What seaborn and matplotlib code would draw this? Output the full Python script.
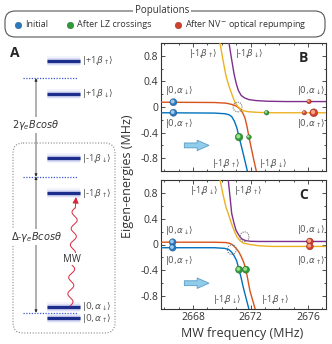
import numpy as np
import matplotlib
matplotlib.use("Agg")
import matplotlib.pyplot as plt
from matplotlib.patches import FancyBboxPatch, Ellipse
from matplotlib.ticker import MultipleLocator
from matplotlib.transforms import offset_copy
import seaborn as sns

# ---------------- values ----------------
freq_lim = (2665.77, 2677.25)
energy_lim = (-1.0, 1.0)
xtick_vals = [2668, 2672, 2676]
ytick_vals = [0.8, 0.4, 0, -0.4, -0.8]
ytick_labels = ["0.8", "0.4", "0", "-0.4", "-0.8"]

# panel B eigen-energies (MHz vs MHz)
b_blue_x = [2665.77, 2669.5, 2670.2, 2670.5, 2670.69, 2670.87, 2671.04, 2671.2, 2671.35, 2671.5, 2671.8]
b_blue_y = [-0.09, -0.095, -0.105, -0.12, -0.15, -0.22, -0.32, -0.47, -0.6, -0.74, -1.02]
b_orange_x = [2665.77, 2669.5, 2670.3, 2670.7, 2671.0, 2671.27, 2671.45, 2671.61, 2671.75, 2671.89, 2672.05, 2672.22, 2672.42]
b_orange_y = [0.075, 0.07, 0.06, 0.04, 0.015, -0.03, -0.09, -0.17, -0.3, -0.47, -0.64, -0.82, -1.02]
b_yellow_x = [2669.87, 2670.07, 2670.27, 2670.45, 2670.62, 2670.78, 2670.92, 2671.1, 2671.3, 2671.5, 2671.9, 2672.6, 2673.5, 2677.25]
b_yellow_y = [1.0, 0.75, 0.51, 0.36, 0.25, 0.15, 0.07, 0.01, -0.035, -0.06, -0.075, -0.085, -0.09, -0.09]
b_purple_x = [2670.5, 2670.68, 2670.85, 2671.0, 2671.15, 2671.35, 2671.6, 2671.9, 2672.4, 2673.2, 2674.5, 2677.25]
b_purple_y = [1.0, 0.75, 0.52, 0.37, 0.26, 0.18, 0.14, 0.115, 0.1, 0.09, 0.085, 0.085]

# panel C eigen-energies
c_blue_x = [2665.77, 2669.5, 2670.2, 2670.5, 2670.69, 2670.87, 2671.03, 2671.2, 2671.35, 2671.5, 2671.92]
c_blue_y = [-0.05, -0.05, -0.06, -0.08, -0.12, -0.18, -0.25, -0.39, -0.52, -0.67, -1.03]
c_orange_x = [2665.77, 2669.5, 2670.3, 2670.6, 2670.8, 2671.0, 2671.2, 2671.38, 2671.53, 2671.68, 2671.96, 2672.36]
c_orange_y = [0.036, 0.035, 0.03, 0.015, -0.015, -0.06, -0.12, -0.2, -0.28, -0.39, -0.72, -1.03]
c_yellow_x = [2669.88, 2670.1, 2670.3, 2670.45, 2670.65, 2670.85, 2671.05, 2671.26, 2671.5, 2671.96, 2672.6, 2673.5, 2677.25]
c_yellow_y = [1.0, 0.76, 0.57, 0.48, 0.34, 0.22, 0.12, 0.06, 0.02, 0.0, -0.02, -0.03, -0.03]
c_purple_x = [2670.45, 2670.58, 2670.69, 2670.85, 2670.99, 2671.2, 2671.38, 2671.6, 2671.96, 2672.6, 2673.5, 2677.25]
c_purple_y = [1.0, 0.72, 0.48, 0.33, 0.22, 0.14, 0.09, 0.065, 0.05, 0.047, 0.047, 0.047]

# populations (balls): x, y, marker size
b_initial = ([2666.63, 2666.63], [0.075, -0.09], [26, 26])
b_lz = ([2673.12, 2671.2, 2671.89], [-0.09, -0.47, -0.47], [11, 30, 11])
b_repump = ([2676.07, 2675.74, 2676.4], [0.085, -0.09, -0.09], [10, 10, 32])
c_initial = ([2666.58, 2666.58], [0.036, -0.05], [24, 24])
c_lz = ([2671.2, 2671.68], [-0.39, -0.39], [26, 26])
c_repump = ([2676.13, 2676.13], [0.047, -0.03], [24, 24])

# dotted circles at the anticrossings
b_crossings = ([2671.1], [0.0])
c_crossings = ([2671.58, 2670.7], [0.12, -0.08])

KA_U = r"$|0,\!\alpha_{\uparrow}\!\rangle$"
KA_D = r"$|0,\!\alpha_{\downarrow}\!\rangle$"
KB_U = r"$|$-1,$\!\beta_{\uparrow}\!\rangle$"
KB_D = r"$|$-1,$\!\beta_{\downarrow}\!\rangle$"

# ket labels: text, x, y
b_labels = [(KB_U, 2668.69, 0.83), (KB_D, 2671.9, 0.83),
            (KA_D, 2667.0, 0.265), (KA_U, 2667.0, -0.265),
            (KA_D, 2676.24, 0.265), (KA_U, 2676.24, -0.265),
            (KB_U, 2670.29, -0.89), (KB_D, 2673.6, -0.89)]
c_labels = [(KB_D, 2668.76, 0.84), (KB_U, 2671.86, 0.84),
            (KA_D, 2667.0, 0.22), (KA_U, 2667.0, -0.25),
            (KA_D, 2676.24, 0.23), (KA_U, 2676.24, -0.25),
            (KB_D, 2670.34, -0.86), (KB_U, 2673.7, -0.86)]

# panel A schematic (pixel-like coordinates)
a_level_y = [60.7, 94, 158.3, 193.3, 306.7, 318.3]
a_level_labels = [r"$|$+1,$\!\beta_{\uparrow}\!\rangle$", r"$|$+1,$\!\beta_{\downarrow}\!\rangle$",
                  KB_D, KB_U, KA_D, KA_U]
a_ref_y = [78.3, 176.7, 312.7]

legend_labels = ["Initial", "After LZ crossings", r"After NV$^{-}$ optical repumping"]

# colours
c_blue, c_orange, c_yellow, c_purple = "#0072BD", "#D95319", "#EDB120", "#7E2F8E"
ball_blue = ("#2c78bb", "#9ccbf0", "#1c4f82")
ball_green = ("#2f9a37", "#9be08a", "#1b5e21")
ball_red = ("#d1402c", "#f6a489", "#8a2417")
text_grey = "#555555"

sns.set_style("ticks")
plt.rcParams["font.family"] = ["Open Sans", "DejaVu Sans"]
plt.rcParams["mathtext.fontset"] = "dejavusans"
plt.rcParams["axes.unicode_minus"] = False

fig = plt.figure(figsize=(3.32, 3.44), dpi=100)
ax_b = fig.add_axes([161 / 332, 1 - 171 / 344, 165 / 332, 128 / 344])
ax_c = fig.add_axes([161 / 332, 1 - 309 / 344, 165 / 332, 129 / 344])


def draw_balls(ax, pts, colors):
    xs, ys, ss = pts
    base, light, edge = colors
    sns.scatterplot(x=xs, y=ys, s=ss, color=base, edgecolor=edge, linewidth=0.3, ax=ax, zorder=5)
    hl = offset_copy(ax.transData, fig=fig, x=-0.5, y=0.5, units="points")
    sns.scatterplot(x=xs, y=ys, s=[s * 0.3 for s in ss], color=light, linewidth=0,
                    ax=ax, zorder=6, transform=hl)


def style_panel(ax, curves, balls, crossings, labels, letter, show_x):
    for xs, ys, col in curves:
        sns.lineplot(x=xs, y=ys, ax=ax, color=col, lw=1.0, sort=False, estimator=None, zorder=3)
    for pts, cols in balls:
        draw_balls(ax, pts, cols)
    for cx, cy in zip(*crossings):
        ax.add_patch(Ellipse((cx, cy), 0.62, 0.15, fill=False, ec="#777777",
                             lw=0.8, ls=(0, (1, 1)), zorder=4))
    for txt, tx, ty in labels:
        ax.text(tx, ty, txt, fontsize=6.3, color=text_grey, ha="center", va="center", zorder=7)
    ax.text(2675.7, 0.76, letter, fontsize=10, fontweight="bold", ha="center", va="center")
    ax.annotate("", xy=(2669.3, -0.6), xytext=(2667.2, -0.6),
                arrowprops=dict(arrowstyle="simple,head_length=0.85,head_width=0.75,tail_width=0.35",
                                fc="#8fcdea", ec="#5b9bc6", lw=0.6))
    ax.set_xlim(*freq_lim)
    ax.set_ylim(*energy_lim)
    ax.set_xticks(xtick_vals)
    ax.set_yticks(ytick_vals)
    ax.set_yticklabels(ytick_labels)
    if not show_x:
        ax.set_xticklabels([])
    ax.xaxis.set_minor_locator(MultipleLocator(1))
    ax.yaxis.set_minor_locator(MultipleLocator(0.2))
    ax.tick_params(which="both", direction="in", top=True, right=True, width=0.6,
                   labelsize=7.5, pad=2, colors="#333333")
    ax.tick_params(which="major", length=3)
    ax.tick_params(which="minor", length=1.6)
    for sp in ax.spines.values():
        sp.set_linewidth(0.8)
        sp.set_color("#333333")
    ax.set_xlabel("")
    ax.set_ylabel("")


style_panel(ax_b,
            [(b_blue_x, b_blue_y, c_blue), (b_orange_x, b_orange_y, c_orange),
             (b_yellow_x, b_yellow_y, c_yellow), (b_purple_x, b_purple_y, c_purple)],
            [(b_initial, ball_blue), (b_lz, ball_green), (b_repump, ball_red)],
            b_crossings, b_labels, "B", False)
style_panel(ax_c,
            [(c_blue_x, c_blue_y, c_blue), (c_orange_x, c_orange_y, c_orange),
             (c_yellow_x, c_yellow_y, c_yellow), (c_purple_x, c_purple_y, c_purple)],
            [(c_initial, ball_blue), (c_lz, ball_green), (c_repump, ball_red)],
            c_crossings, c_labels, "C", True)

fig.text(127 / 332, 1 - 176 / 344, "Eigen-energies (MHz)", rotation=90, fontsize=9,
         ha="center", va="center", color="#333333")
fig.text(242 / 332, 1 - 333 / 344, "MW frequency (MHz)", fontsize=9,
         ha="center", va="center", color="#333333")

# ---------------- overlay: panel A and population legend ----------------
ax_o = fig.add_axes([0, 0, 1, 1], zorder=-1)
ax_o.set_xlim(0, 332)
ax_o.set_ylim(344, 0)
ax_o.axis("off")

ax_o.text(15, 53, "A", fontsize=10, fontweight="bold", ha="center", va="center")
ax_o.add_patch(FancyBboxPatch((13, 143), 102, 190, boxstyle="round,pad=0,rounding_size=10",
                              fill=False, ec="#888888", lw=0.8, ls=(0, (1, 1.5))))
for y in a_ref_y:
    ax_o.plot([23, 78], [y, y], color="#3a5bd0", ls=(0, (1, 1.2)), lw=0.9)
for y, lab in zip(a_level_y, a_level_labels):
    for lw, al in [(7, 0.1), (5, 0.18), (3.6, 0.3)]:
        ax_o.plot([47, 80], [y, y], color="#7f86d6", lw=lw, alpha=al, solid_capstyle="butt")
    ax_o.plot([47, 80], [y, y], color="#1c2e8c", lw=2.2, solid_capstyle="butt")
    ax_o.text(82, y, lab, fontsize=6.6, color=text_grey, ha="left", va="center")

arrow_kw = dict(arrowstyle="<|-|>", lw=0.5, color="#222222", shrinkA=0, shrinkB=0, mutation_scale=4)
ax_o.annotate("", xy=(36, a_ref_y[0]), xytext=(36, a_ref_y[1]), arrowprops=arrow_kw)
ax_o.annotate("", xy=(36, a_ref_y[1]), xytext=(36, a_ref_y[2]), arrowprops=arrow_kw)
box_kw = dict(fc="white", ec="none", pad=0.6)
ax_o.text(36, 125, r"$2\gamma_{e}Bcos\theta$", fontsize=7, color="#333333",
          ha="center", va="center", bbox=box_kw)
ax_o.text(36, 237, r"$\Delta$-$\gamma_{e}Bcos\theta$", fontsize=7, color="#333333",
          ha="center", va="center", bbox=box_kw)

# wavy microwave arrow (decorative glyph)
t = np.linspace(0, 1, 400)
ax_o.plot(70 + 5 * t + 2.8 * np.sin(2 * np.pi * 6 * t), 306 - 98 * t, color="#d8283c", lw=0.7)
ax_o.annotate("", xy=(76, 197), xytext=(75.3, 208),
              arrowprops=dict(arrowstyle="-|>", color="#d8283c", lw=0.7, mutation_scale=9,
                              shrinkA=0, shrinkB=0))
ax_o.text(72, 259, "MW", fontsize=7, color="#333333", ha="center", va="center", bbox=box_kw)

# population legend
ax_o.add_patch(FancyBboxPatch((5, 11), 320, 26, boxstyle="round,pad=0,rounding_size=10",
                              fc="none", ec="#555555", lw=0.8))
ax_o.text(162, 10, "Populations", fontsize=7, color="#333333", ha="center", va="center",
          bbox=dict(fc="white", ec="none", pad=1.5))
leg_x = [18, 70, 178]
for lx, lab, cols in zip(leg_x, legend_labels, [ball_blue, ball_green, ball_red]):
    ax_o.scatter([lx], [24.5], s=22, color=cols[0], edgecolor=cols[2], linewidth=0.3, zorder=5)
    ax_o.text(lx + 7, 24.5, lab, fontsize=6.5, color="#333333", ha="left", va="center")

fig.savefig("out.png", dpi=100)
